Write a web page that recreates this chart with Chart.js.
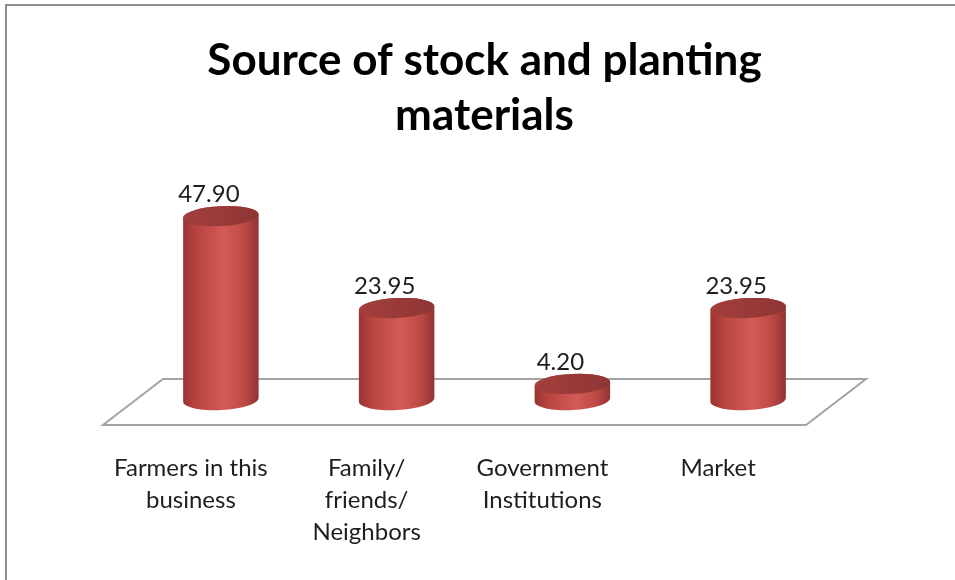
<!DOCTYPE html>
<html>
<head>
<meta charset="utf-8">
<script src="https://cdn.jsdelivr.net/npm/chart.js@4.4.1/dist/chart.umd.min.js"></script>
<style>
  html, body { margin: 0; padding: 0; background: #fff; overflow: hidden; }
  #frame { position: absolute; left: 5px; top: 4px; width: 970px; height: 600px; border: 2px solid #8e8e8e; }
  #wrap { position: absolute; left: 0; top: 0; width: 955px; height: 580px; }
</style>
</head>
<body>
<div id="frame"></div>
<div id="wrap"><canvas id="chart"></canvas></div>
<script>
const titleLines = ['Source of stock and planting', 'materials'];
const categories = [
  ['Farmers in this', 'business'],
  ['Family/', 'friends/', 'Neighbors'],
  ['Government', 'Institutions'],
  ['Market'],
];
const shares = [47.90, 23.95, 4.20, 23.95];

const FONT = 'Lato, "Open Sans", sans-serif';

// floor parallelogram + cylinders drawn over the (transparent) bar elements
const cylinders = {
  id: 'cylinders',
  beforeDatasetsDraw(chart) {
    const { ctx, chartArea } = chart;
    const y0 = chart.scales.y.getPixelForValue(0);
    const dx = 30, front = y0 + 25, back = y0 - 21;
    ctx.save();
    ctx.strokeStyle = '#a3a3a3';
    ctx.lineWidth = 2;
    ctx.beginPath();
    ctx.moveTo(chartArea.left - dx, front);
    ctx.lineTo(chartArea.right - dx, front);
    ctx.lineTo(chartArea.right + dx, back);
    ctx.lineTo(chartArea.left + dx, back);
    ctx.closePath();
    ctx.stroke();
    ctx.restore();
  },
  afterDatasetsDraw(chart) {
    const { ctx } = chart;
    const meta = chart.getDatasetMeta(0);
    const ry = 10, rot = -0.05;
    ctx.save();
    meta.data.forEach((bar, i) => {
      const { x, y, base, width } = bar.getProps(['x', 'y', 'base', 'width'], true);
      const rx = width / 2;

      const side = ctx.createLinearGradient(x - rx, 0, x + rx, 0);
      side.addColorStop(0, '#983432');
      side.addColorStop(0.18, '#b8443f');
      side.addColorStop(0.55, '#d35b57');
      side.addColorStop(0.8, '#c04a46');
      side.addColorStop(1, '#933331');

      ctx.beginPath();
      ctx.ellipse(x, base, rx, ry, rot, 0, Math.PI);
      ctx.lineTo(x - rx * Math.cos(rot), y - rx * Math.sin(rot));
      ctx.ellipse(x, y, rx, ry, rot, Math.PI, 2 * Math.PI);
      ctx.closePath();
      ctx.fillStyle = side;
      ctx.fill();

      const top = ctx.createLinearGradient(x - rx, 0, x + rx, 0);
      top.addColorStop(0, '#a33f3c');
      top.addColorStop(1, '#8e3634');
      ctx.beginPath();
      ctx.ellipse(x, y, rx, ry, rot, 0, 2 * Math.PI);
      ctx.fillStyle = top;
      ctx.fill();

      // value label
      ctx.fillStyle = '#1e1e1e';
      ctx.font = '24px ' + FONT;
      ctx.textAlign = 'center';
      ctx.textBaseline = 'middle';
      ctx.fillText(shares[i].toFixed(2), x - 12, y - ry - 12);
    });
    ctx.restore();
  }
};

new Chart(document.getElementById('chart'), {
  type: 'bar',
  data: {
    labels: categories,
    datasets: [{
      data: shares,
      backgroundColor: 'rgba(0,0,0,0)',
      borderWidth: 0,
      categoryPercentage: 1,
      barPercentage: 0.43,
    }],
  },
  options: {
    responsive: true,
    maintainAspectRatio: false,
    animation: false,
    layout: { padding: { left: 133, right: 119, top: 0, bottom: 32 } },
    plugins: {
      legend: { display: false },
      tooltip: { enabled: false },
      title: {
        display: true,
        text: titleLines,
        color: '#000',
        font: { family: FONT, size: 44, weight: 'bold', lineHeight: 1.25 },
        padding: { top: 33, bottom: 19 },
      },
    },
    scales: {
      x: {
        grid: { display: false, drawTicks: false },
        border: { display: false },
        ticks: {
          color: '#1e1e1e',
          font: { family: FONT, size: 24, lineHeight: 1.333 },
          padding: 52,
          labelOffset: -30,
          maxRotation: 0,
          autoSkip: false,
        },
        afterFit(scale) { scale.height = 148; },
      },
      y: { display: false, min: 0, max: 62 },
    },
  },
  plugins: [cylinders],
});
</script>
</body>
</html>
